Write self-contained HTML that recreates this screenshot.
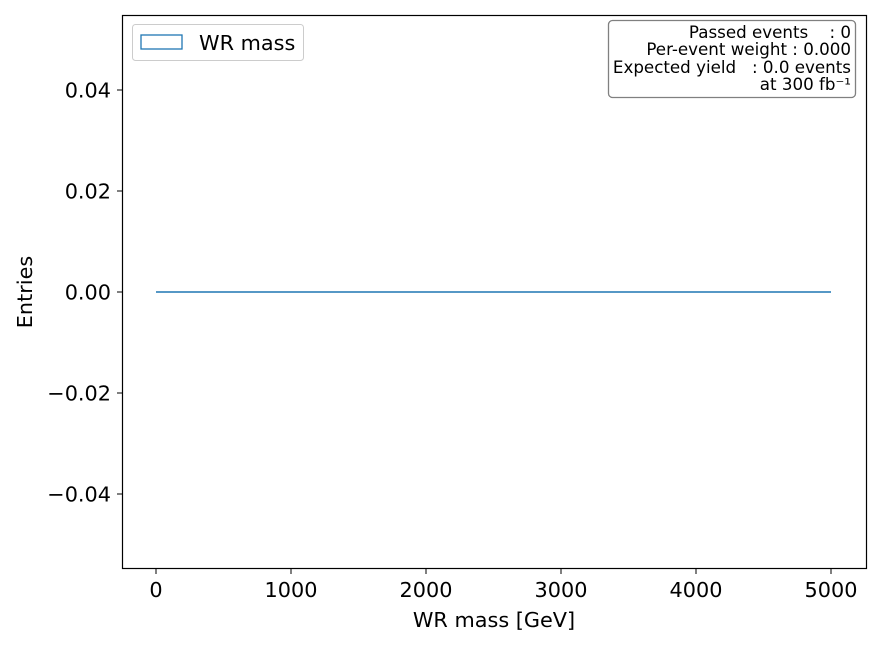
<!DOCTYPE html>
<html><head><meta charset="utf-8"><style>
html,body{margin:0;padding:0;background:#fff;}
svg{display:block;font-family:"DejaVu Sans","Liberation Sans",sans-serif;}
</style></head><body>
<svg id="chart" width="880" height="647" viewBox="0 0 880 647">
<rect x="0" y="0" width="880" height="647" fill="#fff"/>
<g id="plot"></g>
<rect x="122.5" y="15.5" width="744" height="553" fill="none" stroke="#000" stroke-width="1.2"/>
<g>
<rect x="132.5" y="24.5" width="171" height="36" rx="3" fill="#fff" stroke="#ccc" stroke-width="1"/>
<rect x="141" y="35" width="41" height="14" fill="none" stroke="#1f77b4" stroke-width="1.3"/>
<text x="199" y="50" font-size="20.8" fill="#000">WR mass</text>
</g>
<g>
<rect x="608.5" y="20.5" width="247" height="77" rx="4" fill="#fff" stroke="#808080" stroke-width="1.3"/>
<g font-size="16.7" text-anchor="end" fill="#000" style="white-space:pre">
<text x="851" y="38" xml:space="preserve">Passed events    : 0</text>
<text x="851" y="55">Per-event weight : 0.000</text>
<text x="851" y="73" xml:space="preserve">Expected yield   : 0.0 events</text>
<text x="851" y="90">at 300 fb⁻¹</text>
</g>
</g>
<text x="494" y="627" font-size="20.8" text-anchor="middle">WR mass [GeV]</text>
<text transform="translate(32,292) rotate(-90)" font-size="20.8" text-anchor="middle">Entries</text>
</svg>
<script>
const binEdgesLow = 0;
const binEdgesHigh = 5000;
const counts = [0,0,0,0,0,0,0,0,0,0,0,0,0,0,0,0,0,0,0,0,0,0,0,0,0,0,0,0,0,0,0,0,0,0,0,0,0,0,0,0,0,0,0,0,0,0,0,0,0,0];
const xTicks = [0,1000,2000,3000,4000,5000];
const yTicks = [-0.04,-0.02,0,0.02,0.04];
const yTickLabels = ["\u22120.04","\u22120.02","0.00","0.02","0.04"];

const NS="http://www.w3.org/2000/svg";
function xs(v){return 156+(v-0)*(831-156)/5000;}
function ys(v){return 292-v*(292-90)/0.04;}
const g=document.getElementById('plot');
function mk(t,a){const e=document.createElementNS(NS,t);for(const k in a)e.setAttribute(k,a[k]);return e;}

xTicks.forEach(t=>{
  const x=xs(t);
  const l=mk('line',{x1:x,x2:x,y1:568.5,y2:574,stroke:'#000','stroke-width':1});
  
  
  g.appendChild(l);
  const tx=mk('text',{x:x,y:597,'font-size':20.8,'text-anchor':'middle'});
  
  
  tx.textContent=String(t);g.appendChild(tx);
});
yTicks.forEach((t,i)=>{
  const y=ys(t);
  const l=mk('line',{x1:117,x2:122.5,y1:y,y2:y,stroke:'#000','stroke-width':1});
  
  
  g.appendChild(l);
  const tx=mk('text',{x:111,y:y+7.5,'font-size':20.8,'text-anchor':'end'});
  
  
  tx.textContent=yTickLabels[i];g.appendChild(tx);
});
const n=counts.length,w=(binEdgesHigh-binEdgesLow)/n;
let d='M'+xs(binEdgesLow)+','+ys(0);
counts.forEach((c,i)=>{
  const a=binEdgesLow+i*w,b=a+w;
  d+=' L'+xs(a)+','+ys(c)+' L'+xs(b)+','+ys(c);
});
d+=' L'+xs(binEdgesHigh)+','+ys(0);
const p=mk('path',{d:d,fill:'none',stroke:'#1f77b4','stroke-width':1.4});


g.appendChild(p);
</script>
</body></html>
